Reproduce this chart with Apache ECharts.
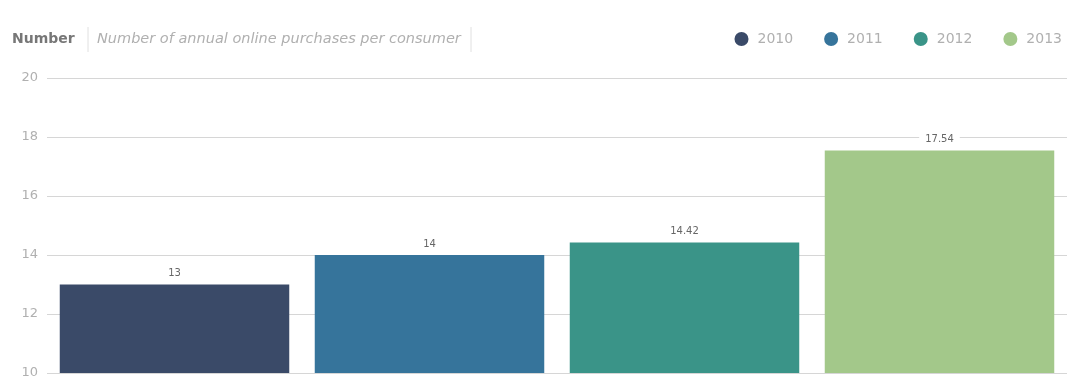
<!DOCTYPE html>
<html>
<head>
<meta charset="utf-8">
<script src="https://cdn.jsdelivr.net/npm/echarts@6/dist/echarts.min.js"></script>
<style>
  html, body { margin: 0; padding: 0; background: #fff; }
  #chart { width: 1075px; height: 381px; }
</style>
</head>
<body>
<div id="chart"></div>
<script>
// Annual online purchases per consumer, one bar per year
const years = ['2010', '2011', '2012', '2013'];
const purchases = [13, 14, 14.42, 17.54];
const colors = ['#3a4a68', '#36749b', '#3a9488', '#a3c88a'];
const yTicks = { min: 10, max: 20, interval: 2 };

const FONT = 'DejaVu Sans';
const chart = echarts.init(document.getElementById('chart'));

// One series per year so each gets its own legend entry; stacking keeps each bar centred in its slot
const series = years.map((y, i) => ({
  name: y,
  type: 'bar',
  stack: 'all',
  barWidth: '90%',
  itemStyle: { color: colors[i] },
  data: years.map((_, j) => (j === i ? purchases[i] : '-')),
  label: {
    show: true,
    position: 'top',
    distance: 5,
    color: '#666',
    fontSize: 10,
    fontFamily: FONT,
    backgroundColor: '#fff',
    padding: [1, 6],
    formatter: p => String(p.value)
  }
}));

chart.setOption({
  animation: false,
  textStyle: { fontFamily: FONT },
  grid: { left: 47, right: 8, top: 78, bottom: 8, containLabel: false },
  legend: {
    data: years,
    right: 8,
    top: 27,
    icon: 'circle',
    itemWidth: 14,
    itemHeight: 14,
    itemGap: 31,
    textStyle: { color: '#b0b0b0', fontSize: 14, fontFamily: FONT, padding: [0, 0, 0, 4] }
  },
  graphic: [
    { type: 'text', left: 12, top: 32, style: { text: 'Number', fill: '#777', font: 'bold 14px "DejaVu Sans"' } },
    { type: 'line', shape: { x1: 88, y1: 27, x2: 88, y2: 52 }, style: { stroke: '#e0e0e0', lineWidth: 1 } },
    { type: 'text', left: 97, top: 32, style: { text: 'Number of annual online purchases per consumer', fill: '#b0b0b0', font: 'italic 14.5px "DejaVu Sans"' } },
    { type: 'line', shape: { x1: 471, y1: 27, x2: 471, y2: 52 }, style: { stroke: '#e0e0e0', lineWidth: 1 } }
  ],
  xAxis: {
    type: 'category',
    data: years,
    axisLine: { show: false },
    axisTick: { show: false },
    axisLabel: { show: false }
  },
  yAxis: {
    type: 'value',
    min: yTicks.min,
    max: yTicks.max,
    interval: yTicks.interval,
    axisLine: { show: false },
    axisTick: { show: false },
    axisLabel: { color: '#b0b0b0', fontSize: 13, margin: 9, fontFamily: FONT },
    splitLine: { lineStyle: { color: '#d6d6d6' } }
  },
  series: series
});
</script>
</body>
</html>
